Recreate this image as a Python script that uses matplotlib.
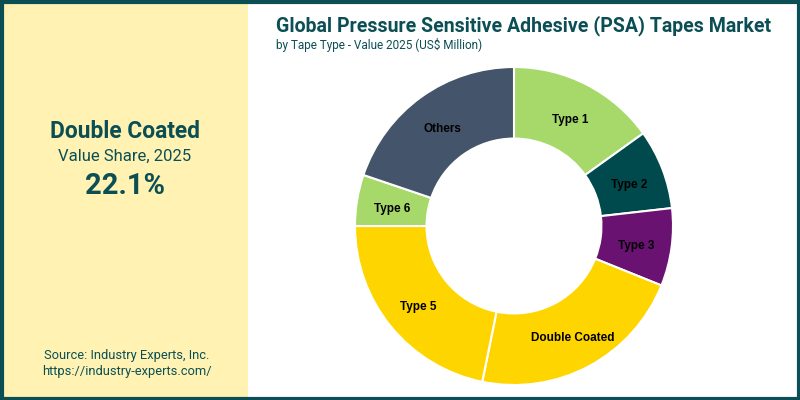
import numpy as np
import matplotlib
matplotlib.use("Agg")
import matplotlib.pyplot as plt
from matplotlib.patches import Rectangle

categories = ["Type 1", "Type 2", "Type 3", "Double Coated", "Type 5", "Type 6", "Others"]
shares = [15.1, 8.1, 7.9, 22.1, 21.8, 5.2, 19.8]
colors = ["#A6D96A", "#00494C", "#6A1272", "#FFD500", "#FFD500", "#A6D96A", "#44546A"]

title = "Global Pressure Sensitive Adhesive (PSA) Tapes Market"
subtitle = "by Tape Type - Value 2025 (US$ Million)"
highlight = "Double Coated"
highlight_value = "22.1%"

DARK = "#0B4F55"
PANEL = "#FFF2B2"

fig = plt.figure(figsize=(8, 4), dpi=100)
fig.patch.set_facecolor("white")

# left panel
fig.patches.append(Rectangle((0, 0), 248/800, 1, transform=fig.transFigure,
                             facecolor=PANEL, edgecolor="none", zorder=0))
# border
fig.patches.append(Rectangle((1.5/800, 1.5/400), 797/800, 397/400, transform=fig.transFigure,
                             facecolor="none", edgecolor=DARK, linewidth=3, zorder=10))

fig.text(125/800, 1 - 132/400, highlight, ha="center", va="center",
         fontsize=16.4, fontweight="bold", color=DARK, family="Roboto")
fig.text(125/800, 1 - 156/400, "Value Share, 2025", ha="center", va="center",
         fontsize=12, color=DARK, family="Roboto")
fig.text(125/800, 1 - 186/400, highlight_value, ha="center", va="center",
         fontsize=21, fontweight="bold", color=DARK, family="Roboto")
fig.text(127/800, 1 - 356/400, "Source: Industry Experts, Inc.", ha="center", va="center",
         fontsize=9.3, color=DARK, family="Roboto")
fig.text(127/800, 1 - 371/400, "https://industry-experts.com/", ha="center", va="center",
         fontsize=9.3, color=DARK, family="Roboto")

t = fig.text(276/800, 1 - 26/400, title, ha="left", va="center",
             fontsize=15, fontweight="bold", color=DARK, family="Roboto")
fig.text(276/800, 1 - 45/400, subtitle, ha="left", va="center",
         fontsize=8.5, color=DARK, family="Roboto")

# fit title width to the reference span
fig.canvas.draw()
w = t.get_window_extent().width
t.set_fontsize(15 * 498 / w)

ax = fig.add_axes([355/800, (400 - 385)/400, 318/800, 318/400])
wedges, _ = ax.pie(shares, colors=colors, startangle=90, counterclock=False,
                   wedgeprops=dict(width=0.45, edgecolor="white", linewidth=1.5))
ax.set_xlim(-1, 1)
ax.set_ylim(-1, 1)
ax.set_aspect("equal")
ax.axis("off")

for w_, lab in zip(wedges, categories):
    ang = np.deg2rad((w_.theta1 + w_.theta2) / 2)
    r = 0.775
    ax.text(r * np.cos(ang), r * np.sin(ang) - 0.02, lab, ha="center", va="center",
            fontsize=8.5, fontweight="bold", color="black", family="Liberation Sans")

fig.savefig("out.png", dpi=100)
